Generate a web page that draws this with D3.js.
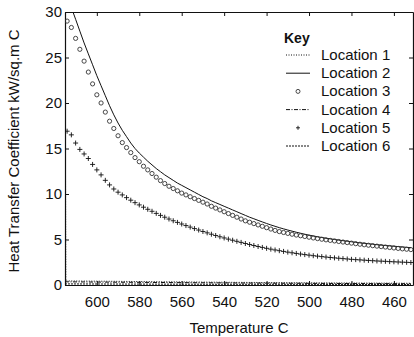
<!DOCTYPE html>
<html lang="en">
  <head>
    <meta charset="utf-8" />
    <title>Heat Transfer Coefficient</title>
    <style>
      body { margin: 0; background: #fff; }
      text { font-family: "Liberation Sans", Arial, sans-serif; fill: #111; }
    </style>
  </head>
  <body>
    <svg id="viz"></svg>

    <script src="https://d3js.org/d3.v7.min.js"></script>
    <script>
        var width = 414;
        var height = 337;

        // temperature grid used by the marker series
        var temps = [614, 612, 610, 608, 606, 604, 602, 600, 598, 596,
                     594, 592, 590, 588, 586, 584, 582, 580, 578, 576,
                     574, 572, 570, 568, 566, 564, 562, 560, 558, 556,
                     554, 552, 550, 548, 546, 544, 542, 540, 538, 536,
                     534, 532, 530, 528, 526, 524, 522, 520, 518, 516,
                     514, 512, 510, 508, 506, 504, 502, 500, 498, 496,
                     494, 492, 490, 488, 486, 484, 482, 480, 478, 476,
                     474, 472, 470, 468, 466, 464, 462, 460, 458, 456,
                     454, 452];

        var location2 = [31.8, 30.5, 29.2, 27.9, 26.6, 25.4, 24.2, 23.0, 21.9, 20.8,
                         19.7, 18.7, 17.8, 17.0, 16.3, 15.6, 15.0, 14.5, 14.05, 13.6,
                         13.2, 12.8, 12.45, 12.1, 11.8, 11.5, 11.2, 10.95, 10.7, 10.45,
                         10.2, 9.95, 9.7, 9.5, 9.25, 9.05, 8.85, 8.65, 8.45, 8.25,
                         8.05, 7.85, 7.65, 7.45, 7.28, 7.1, 6.93, 6.76, 6.6, 6.45,
                         6.3, 6.17, 6.04, 5.92, 5.8, 5.69, 5.58, 5.48, 5.39, 5.3,
                         5.22, 5.14, 5.07, 5.0, 4.93, 4.87, 4.81, 4.75, 4.69, 4.63,
                         4.58, 4.53, 4.48, 4.43, 4.38, 4.34, 4.3, 4.26, 4.22, 4.18,
                         4.14, 4.1];

        var location3 = [29.0, 28.3, 27.1, 25.9, 24.6, 23.4, 22.1, 20.9, 20.0, 19.0,
                         18.0, 17.2, 16.4, 15.65, 15.1, 14.55, 14.0, 13.55, 13.05, 12.65,
                         12.25, 11.85, 11.47, 11.15, 10.85, 10.6, 10.35, 10.1, 9.9, 9.7,
                         9.5, 9.3, 9.1, 8.9, 8.65, 8.45, 8.25, 8.05, 7.85, 7.65,
                         7.45, 7.25, 7.05, 6.9, 6.75, 6.6, 6.45, 6.3, 6.15, 6.0,
                         5.87, 5.77, 5.67, 5.58, 5.49, 5.41, 5.33, 5.25, 5.17, 5.1,
                         5.03, 4.96, 4.9, 4.84, 4.78, 4.72, 4.66, 4.6, 4.54, 4.48,
                         4.42, 4.37, 4.32, 4.27, 4.22, 4.17, 4.12, 4.07, 4.02, 3.97,
                         3.93, 3.89];

        var location5 = [16.9, 16.5, 15.6, 14.9, 14.4, 13.9, 13.25, 12.65, 12.1, 11.5,
                         11.0, 10.55, 10.2, 9.9, 9.6, 9.32, 9.05, 8.8, 8.55, 8.32,
                         8.1, 7.87, 7.65, 7.45, 7.25, 7.06, 6.88, 6.7, 6.53, 6.36,
                         6.2, 6.04, 5.88, 5.73, 5.58, 5.44, 5.3, 5.17, 5.04, 4.92,
                         4.8, 4.68, 4.56, 4.45, 4.34, 4.23, 4.13, 4.03, 3.94, 3.85,
                         3.77, 3.69, 3.61, 3.54, 3.47, 3.4, 3.34, 3.28, 3.22, 3.17,
                         3.12, 3.07, 3.02, 2.98, 2.94, 2.9, 2.86, 2.82, 2.79, 2.76,
                         2.73, 2.7, 2.67, 2.64, 2.62, 2.6, 2.57, 2.55, 2.53, 2.51,
                         2.49, 2.47];

        // the three near-zero series
        var tempsLow = [615, 614.6, 600, 580, 560, 540, 520, 500, 480, 460, 452];
        var location1 = [29.8, 0.45, 0.42, 0.38, 0.34, 0.3, 0.27, 0.24, 0.22, 0.2, 0.19];
        var location4 = [0.36, 0.35, 0.32, 0.29, 0.26, 0.23, 0.2, 0.18, 0.16, 0.15, 0.14];
        var location6 = [0.12, 0.12, 0.11, 0.1, 0.09, 0.08, 0.08, 0.07, 0.06, 0.06, 0.05];

        var xTicks = [600, 580, 560, 540, 520, 500, 480, 460];
        var yTicks = [0, 5, 10, 15, 20, 25, 30];
        var legendNames = ["Location 1", "Location 2", "Location 3", "Location 4", "Location 5", "Location 6"];
        var legendDash = ["1,1.5", null, null, "4,1.5,1,1.5", null, "2,1"];

        var pLeft = 65, pRight = 413, pTop = 12, pBottom = 285;

        var x = d3.scaleLinear().domain([615, 451]).range([pLeft, pRight]);
        var y = d3.scaleLinear().domain([0, 30]).range([pBottom, pTop]);

        var svg = d3.select("#viz")
            .attr("width", width)
            .attr("height", height);

        svg.append("defs").append("clipPath")
            .attr("id", "plotclip")
            .append("rect")
            .attr("x", pLeft)
            .attr("y", pTop)
            .attr("width", pRight - pLeft)
            .attr("height", pBottom - pTop);

        function styleAxis(g) {
            g.select(".domain").attr("stroke", "#111").attr("stroke-width", 1.2);
            g.selectAll(".tick line").attr("stroke", "#111");
            g.selectAll(".tick text")
                .attr("fill", "#111")
                .style("font-size", "15px")
                .style("font-family", "'Liberation Sans', Arial, sans-serif");
        }

        // axes, ticks pointing inward
        svg.append("g")
            .attr("transform", "translate(0," + pBottom + ")")
            .call(d3.axisBottom(x).tickValues(xTicks).tickSizeInner(-4).tickSizeOuter(0).tickPadding(11))
            .call(styleAxis);

        svg.append("g")
            .attr("transform", "translate(0," + pTop + ")")
            .call(d3.axisTop(x).tickValues(xTicks).tickSizeInner(-4).tickSizeOuter(0).tickFormat(""))
            .call(styleAxis);

        svg.append("g")
            .attr("transform", "translate(" + pLeft + ",0)")
            .call(d3.axisLeft(y).tickValues(yTicks).tickSizeInner(-4).tickSizeOuter(0).tickPadding(3))
            .call(styleAxis);

        svg.append("g")
            .attr("transform", "translate(" + pRight + ",0)")
            .call(d3.axisRight(y).tickValues(yTicks).tickSizeInner(-4).tickSizeOuter(0).tickFormat(""))
            .call(styleAxis);

        svg.append("text")
            .attr("x", (pLeft + pRight) / 2)
            .attr("y", 333)
            .attr("text-anchor", "middle")
            .style("font-size", "15px")
            .text("Temperature C");

        svg.append("text")
            .attr("transform", "translate(19,151) rotate(-90)")
            .attr("text-anchor", "middle")
            .style("font-size", "15px")
            .text("Heat Transfer Coefficient kW/sq.m C");

        var plot = svg.append("g").attr("clip-path", "url(#plotclip)");

        var line = d3.line()
            .x(function(d) { return x(d[0]); })
            .y(function(d) { return y(d[1]); });

        [[location1, legendDash[0]], [location4, legendDash[3]], [location6, legendDash[5]]].forEach(function(s) {
            plot.append("path")
                .datum(d3.zip(tempsLow, s[0]))
                .attr("d", line)
                .attr("fill", "none")
                .attr("stroke", "#111")
                .attr("stroke-width", 1)
                .attr("stroke-dasharray", s[1]);
        });

        plot.append("path")
            .datum(d3.zip(temps, location2))
            .attr("d", line)
            .attr("fill", "none")
            .attr("stroke", "#111")
            .attr("stroke-width", 1);

        plot.append("g").selectAll("circle")
            .data(d3.zip(temps, location3))
            .enter()
            .append("circle")
            .attr("cx", function(d) { return x(d[0]); })
            .attr("cy", function(d) { return y(d[1]); })
            .attr("r", 2.1)
            .attr("fill", "none")
            .attr("stroke", "#333")
            .attr("stroke-width", 0.9);

        plot.append("g").selectAll("path")
            .data(d3.zip(temps, location5))
            .enter()
            .append("path")
            .attr("transform", function(d) { return "translate(" + x(d[0]) + "," + y(d[1]) + ")"; })
            .attr("d", "M-2.5,0H2.5M0,-2.5V2.5")
            .attr("stroke", "#111")
            .attr("stroke-width", 0.9);

        // key
        var key = svg.append("g");
        key.append("text")
            .attr("x", 284)
            .attr("y", 43)
            .style("font-size", "14px")
            .style("font-weight", "bold")
            .text("Key");

        var rowY = d3.scalePoint().domain(legendNames).range([55, 146]);

        legendNames.forEach(function(name, i) {
            var ry = rowY(name);
            key.append("text")
                .attr("x", 321)
                .attr("y", ry + 5)
                .style("font-size", "15px")
                .text(name);
            if (i === 2) {
                key.append("circle")
                    .attr("cx", 298).attr("cy", ry).attr("r", 2)
                    .attr("fill", "none").attr("stroke", "#333").attr("stroke-width", 0.9);
            } else if (i === 4) {
                key.append("path")
                    .attr("transform", "translate(298," + ry + ")")
                    .attr("d", "M-2,0H2M0,-2V2")
                    .attr("stroke", "#111").attr("stroke-width", 0.9);
            } else {
                key.append("line")
                    .attr("x1", 286).attr("x2", 310)
                    .attr("y1", ry).attr("y2", ry)
                    .attr("stroke", "#111")
                    .attr("stroke-width", 1)
                    .attr("stroke-dasharray", legendDash[i]);
            }
        });
    </script>
  </body>
</html>
